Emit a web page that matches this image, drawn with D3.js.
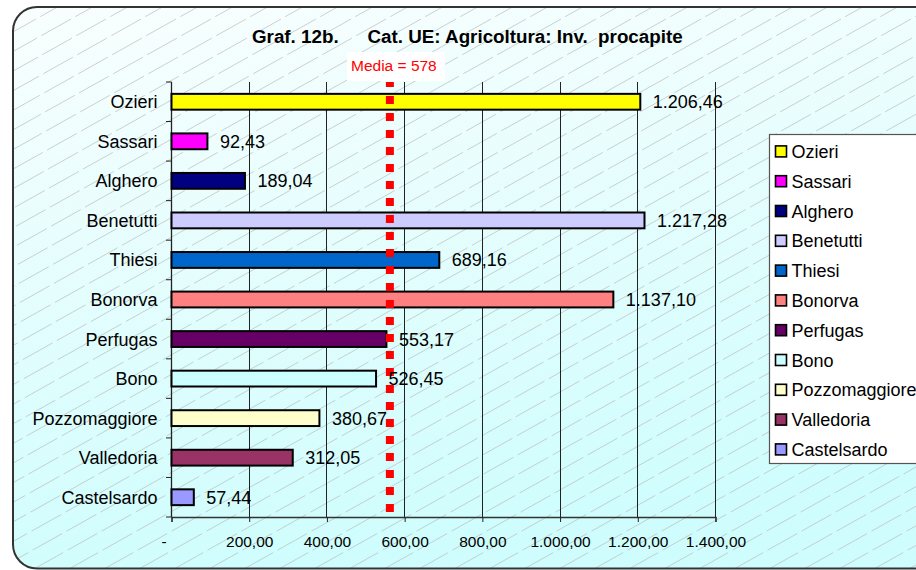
<!DOCTYPE html>
<html><head><meta charset="utf-8">
<script src="https://cdn.jsdelivr.net/npm/d3@7"></script>
<style>
html,body{margin:0;padding:0;background:#fff}
svg{display:block}
text{font-family:"Liberation Sans",Arial,sans-serif;fill:#000}
</style>
</head><body>
<svg id="c" width="916" height="570"></svg>
<script>
// ---- data ----
const categories = ["Ozieri","Sassari","Alghero","Benetutti","Thiesi","Bonorva","Perfugas","Bono","Pozzomaggiore","Valledoria","Castelsardo"];
const values = [1206.46, 92.43, 189.04, 1217.28, 689.16, 1137.10, 553.17, 526.45, 380.67, 312.05, 57.44];
const colors = ["#FFFF00","#FF00FF","#000080","#CCCCFF","#0066CC","#FF8080","#660066","#CCFFFF","#FFFFCC","#993366","#9999FF"];
const xTicks = [0,200,400,600,800,1000,1200,1400];
const mediaLabel = "Media = 578";
const mediaLineValue = 562; // where the dotted line is drawn in the reference
const titleA = "Graf. 12b.";
const titleB = "Cat. UE: Agricoltura: Inv.  procapite";

// ---- setup ----
const svg = d3.select("#c");
const W = 916, H = 570;
const it = d3.formatLocale({decimal:",", thousands:".", grouping:[3], currency:["",""]});
const fmt = it.format(",.2f");

const defs = svg.append("defs");
const grad = defs.append("linearGradient").attr("id","bg").attr("x1",0).attr("y1",0).attr("x2",0.25).attr("y2",1);
grad.append("stop").attr("offset","0%").attr("stop-color","#f9fefe");
grad.append("stop").attr("offset","100%").attr("stop-color","#cffdfd");

const frame = {x:13, y:7, w:940, h:561.5, r:24};
defs.append("clipPath").attr("id","fclip").append("rect")
  .attr("x",frame.x).attr("y",frame.y).attr("width",frame.w).attr("height",frame.h).attr("rx",frame.r);

svg.append("rect").attr("x",frame.x).attr("y",frame.y).attr("width",frame.w).attr("height",frame.h)
  .attr("rx",frame.r).attr("fill","url(#bg)");

// hatching
const hatch = svg.append("g").attr("clip-path","url(#fclip)");
const slope = 0.56;
for (let c = 0; c < W + H/slope + 40; c += 35) {
  hatch.append("line").attr("x1", c).attr("y1", 0).attr("x2", c - H/slope).attr("y2", H)
    .attr("stroke","#b9bcbc").attr("stroke-width",0.7).attr("stroke-dasharray","34,5");
}

// frame border
svg.append("rect").attr("x",frame.x).attr("y",frame.y).attr("width",frame.w).attr("height",frame.h)
  .attr("rx",frame.r).attr("fill","none").attr("stroke","#333").attr("stroke-width",2);

// ---- scales ----
const plot = {l:171.5, r:715.5, t:82, b:517};
const x = d3.scaleLinear().domain([0,1400]).range([plot.l, plot.r]);
const y = d3.scaleBand().domain(categories).range([plot.t, plot.b]).paddingInner(0.6).paddingOuter(0.3);
const step = y.step();

// gridlines
svg.append("g").selectAll("line").data(xTicks.slice(1)).join("line")
  .attr("x1",d=>x(d)).attr("x2",d=>x(d)).attr("y1",plot.t).attr("y2",plot.b)
  .attr("stroke","#222").attr("stroke-width",1).attr("shape-rendering","crispEdges");

// x axis
const xAxis = d3.axisBottom(x).tickValues(xTicks).tickSize(5).tickPadding(14)
  .tickFormat(d => d === 0 ? "-" : fmt(d));
const gx = svg.append("g").attr("transform",`translate(0,${plot.b})`).call(xAxis);
gx.select(".domain").attr("stroke","#333").attr("stroke-width",1.3);
gx.selectAll(".tick line").attr("stroke","#222");
gx.selectAll(".tick text").attr("font-size",15.5).attr("fill","#000")
  .attr("font-family","'Liberation Sans',Arial,sans-serif")
  .attr("dx", d => d === 0 ? -8 : 0);

// y axis line + ticks at band boundaries
svg.append("line").attr("x1",plot.l).attr("x2",plot.l).attr("y1",plot.t).attr("y2",plot.b)
  .attr("stroke","#222").attr("stroke-width",1.3);
svg.append("g").selectAll("line").data(d3.range(categories.length+1)).join("line")
  .attr("x1",plot.l-5.5).attr("x2",plot.l).attr("y1",i=>plot.t+i*step).attr("y2",i=>plot.t+i*step)
  .attr("stroke","#222").attr("stroke-width",1);

// category labels
svg.append("g").selectAll("text").data(categories).join("text")
  .attr("x",157.5).attr("y",d=>y(d)+y.bandwidth()/2+6.5)
  .attr("text-anchor","end").attr("font-size",18).text(d=>d);

// bars
const rows = categories.map((c,i)=>({c, v:values[i], col:colors[i]}));
svg.append("g").selectAll("rect").data(rows).join("rect")
  .attr("x",x(0)).attr("y",d=>y(d.c)).attr("width",d=>x(d.v)-x(0)).attr("height",y.bandwidth())
  .attr("fill",d=>d.col).attr("stroke","#000").attr("stroke-width",2);

// media line
svg.append("line").attr("x1",x(mediaLineValue)).attr("x2",x(mediaLineValue))
  .attr("y1",plot.t).attr("y2",plot.b)
  .attr("stroke","#FF0000").attr("stroke-width",8)
  .attr("stroke-dasharray","8,9").attr("stroke-dashoffset",3);

// value labels
svg.append("g").selectAll("text").data(rows).join("text")
  .attr("x",d=>x(d.v)+12.5).attr("y",d=>y(d.c)+y.bandwidth()/2+6.5)
  .attr("font-size",18).text(d=>fmt(d.v));

// media label
svg.append("rect").attr("x",347).attr("y",52).attr("width",98).attr("height",29).attr("fill","#fff");
svg.append("text").attr("x",351).attr("y",71).attr("font-size",15.5).attr("fill","#FF0000")
  .style("fill","#FF0000").text(mediaLabel);

// title
svg.append("text").attr("x",252).attr("y",42.5).attr("font-size",18.8).attr("font-weight","bold").text(titleA);
svg.append("text").attr("x",367.5).attr("y",42.5).attr("font-size",18.8).attr("font-weight","bold")
  .attr("xml:space","preserve").style("white-space","pre").text(titleB);

// legend
const lg = svg.append("g");
lg.append("rect").attr("x",769.5).attr("y",134.5).attr("width",200).attr("height",329)
  .attr("fill","#fff").attr("stroke","#555").attr("stroke-width",1.2);
const li = lg.selectAll("g").data(rows).join("g")
  .attr("transform",(d,i)=>`translate(0,${151.4 + i*29.8})`);
li.append("rect").attr("x",775.5).attr("y",-5.5).attr("width",11).attr("height",11)
  .attr("fill",d=>d.col).attr("stroke","#000").attr("stroke-width",1.6);
li.append("text").attr("x",791.5).attr("y",6.5).attr("font-size",18).text(d=>d.c);
</script>
</body></html>
